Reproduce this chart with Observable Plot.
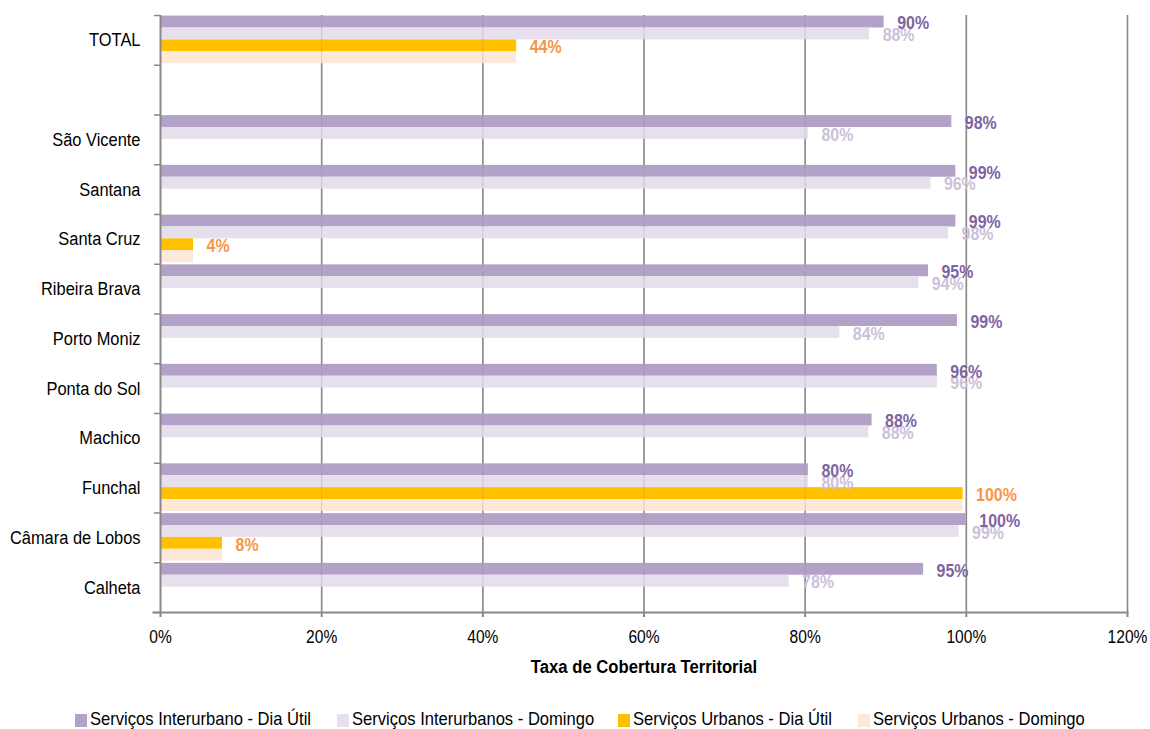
<!DOCTYPE html>
<html>
<head>
<meta charset="utf-8">
<script src="https://cdn.jsdelivr.net/npm/d3@7"></script>
<script src="https://cdn.jsdelivr.net/npm/@observablehq/plot@0.6"></script>
<style>
  html, body { margin: 0; padding: 0; background: #fff; }
  #wrap { position: relative; width: 1150px; height: 729px; overflow: hidden;
          font-family: "Liberation Sans", Arial, sans-serif; }
  #chart svg { display: block; }
  #legend { position: absolute; left: 0; top: 708px; width: 1150px; height: 21px; font-size: 19px; line-height: 21px; color: #000; }
  .item { position: absolute; top: 0; white-space: nowrap; }
  .sw { position: absolute; left: 0; top: 6px; width: 12px; height: 13px; }
  .tx { position: absolute; left: 15px; top: 0; display: inline-block; transform: scaleX(0.872); transform-origin: 0 50%; }
</style>
</head>
<body>
<div id="wrap">
  <div id="chart"></div>
  <div id="legend"></div>
</div>
<script>
const categories = ["TOTAL", " ", "São Vicente", "Santana", "Santa Cruz", "Ribeira Brava", "Porto Moniz", "Ponta do Sol", "Machico", "Funchal", "Câmara de Lobos", "Calheta"];
const seriesNames = ["Serviços Interurbano - Dia Útil", "Serviços Interurbanos - Domingo", "Serviços Urbanos - Dia Útil", "Serviços Urbanos - Domingo"];
const interDiaUtil = [89.8, null, 98.2, 98.7, 98.7, 95.3, 98.9, 96.4, 88.3, 80.4, 100, 94.7];
const interDomingo = [88.0, null, 80.4, 95.6, 97.8, 94.1, 84.3, 96.4, 87.9, 80.4, 99.1, 78.0];
const urbDiaUtil   = [44.2, null, 0, 0, 4.1, 0, 0, 0, 0, 99.6, 7.7, 0];
const urbDomingo   = [44.2, null, 0, 0, 4.1, 0, 0, 0, 0, 99.6, 7.7, 0];
const xTicks = [0, 20, 40, 60, 80, 100, 120];
const xTitle = "Taxa de Cobertura Territorial";

const barColors = ["#b3a2c7", "#e6e0ec", "#ffc000", "#fde9d9"];
const labelColors = ["#8064a2", "#ccc1da", "#f79646", null];

const seriesValues = [interDiaUtil, interDomingo, urbDiaUtil, urbDomingo];
const rows = [];
seriesValues.forEach((vals, s) => {
  vals.forEach((v, i) => {
    if (v != null) rows.push({category: categories[i], series: s, value: v});
  });
});

const W = 1150, H = 705;
const mL = 160, mR = 23, mT = 15, mB = H - 612;
const bw = (H - mT - mB) / categories.length;
const bh = 11.9, padTop = 0.6;
const font = '"Liberation Sans", Arial, sans-serif';
const gray = "#898989";

const barMarks = [0, 1, 2, 3].map(s => Plot.barX(rows.filter(d => d.series === s), {
  x: "value", y: "category", fill: barColors[s],
  insetTop: padTop + s * bh, insetBottom: bw - padTop - (s + 1) * bh
}));

const labelOrder = [1, 0, 2];
const labelMarks = labelOrder.map(s => Plot.text(rows.filter(d => d.series === s && d.value > 0), {
  x: "value", y: "category", text: d => Math.round(d.value) + "%",
  dx: 13, dy: padTop + s * bh + bh / 2 - bw / 2 + 1.2,
  textAnchor: "start", fill: labelColors[s], fontWeight: "bold", fontSize: 19
}));

const chart = Plot.plot({
  width: W, height: H,
  marginLeft: mL, marginRight: mR, marginTop: mT, marginBottom: mB,
  style: {fontFamily: font, fontSize: "19px", color: "#000", background: "#fff"},
  x: {domain: [0, 120]},
  y: {domain: categories, padding: 0, round: false},
  marks: [
    Plot.ruleX(xTicks.slice(1), {stroke: gray, strokeWidth: 1.6}),
    ...barMarks,
    Plot.ruleX(xTicks.slice(1), {stroke: gray, strokeWidth: 1, strokeOpacity: 0.3}),
    ...labelMarks,
    Plot.ruleX([0], {stroke: gray, strokeWidth: 2}),
    Plot.frame({anchor: "bottom", stroke: gray, strokeWidth: 2, insetLeft: -7}),
    Plot.axisX(xTicks, {tickFormat: d => d + "%", tickSize: 5, tickPadding: 12.5, stroke: gray, strokeWidth: 2, fill: "#000", label: null}),
    Plot.axisY(categories, {tickSize: 0, tickPadding: 20, label: null, fill: "#000"}),
    Plot.axisY(categories, {tickSize: 6, text: null, dy: bw / 2, stroke: gray, strokeWidth: 1.5, label: null}),
    Plot.axisY([categories[0]], {tickSize: 6, text: null, dy: -bw / 2, stroke: gray, strokeWidth: 1.5, label: null}),
    Plot.text([xTitle], {frameAnchor: "bottom", dy: 60, lineAnchor: "bottom", fontWeight: "bold", fontSize: 19, fill: "#000"})
  ]
});

// Narrow the text horizontally (the reference uses a condensed face)
chart.querySelectorAll("text").forEach(t => {
  const g = t.closest("g[aria-label]");
  const role = g ? g.getAttribute("aria-label") : "";
  let k = 0.84;
  if (role === "y-axis tick label") k = 0.865;
  else if (role === "x-axis tick label") k = 0.82;
  else if (t.textContent === xTitle) k = 0.878;
  const x = parseFloat(t.getAttribute("x") || "0");
  const tr = t.getAttribute("transform") || "";
  t.removeAttribute("x");
  t.setAttribute("transform", `${tr} translate(${x},0) scale(${k},1)`);
});
document.getElementById("chart").appendChild(chart);

const legendLefts = [75, 337, 618, 858];
const legend = document.getElementById("legend");
seriesNames.forEach((name, s) => {
  const it = document.createElement("div");
  it.className = "item";
  it.style.left = legendLefts[s] + "px";
  const sw = document.createElement("span");
  sw.className = "sw";
  sw.style.background = barColors[s];
  const tx = document.createElement("span");
  tx.className = "tx";
  tx.textContent = name;
  it.appendChild(sw);
  it.appendChild(tx);
  legend.appendChild(it);
});
</script>
</body>
</html>
